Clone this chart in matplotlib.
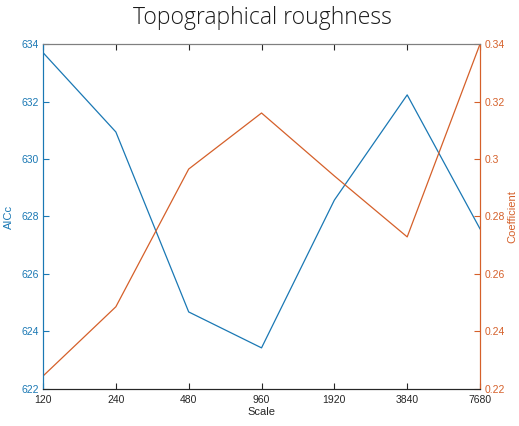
import matplotlib
matplotlib.use("Agg")
import matplotlib.pyplot as plt
from matplotlib.ticker import FixedLocator, FixedFormatter, FormatStrFormatter

# scale levels and fitted values
scales = [120, 240, 480, 960, 1920, 3840, 7680]
aicc = [633.70, 630.94, 624.68, 623.43, 628.57, 632.23, 627.57]
coef = [0.2245, 0.2486, 0.2965, 0.3160, 0.2941, 0.2729, 0.3400]

blue = "#1a78b4"
orange = "#d5602a"
dark = "#262626"

plt.rcParams["font.family"] = ["Liberation Sans", "DejaVu Sans"]

fig = plt.figure(figsize=(5.19, 4.26), dpi=100)
ax = fig.add_axes([0.0829, 0.0869, 0.842, 0.8098])
ax2 = ax.twinx()

ax.plot(scales, aicc, color=blue, lw=0.9)
ax2.plot(scales, coef, color=orange, lw=0.9)

ax.set_xscale("log", base=2)
ax.set_xlim(120, 7680)
ax.xaxis.set_major_locator(FixedLocator(scales))
ax.xaxis.set_major_formatter(FixedFormatter([str(s) for s in scales]))
ax.xaxis.set_minor_locator(FixedLocator([]))

ax.set_ylim(622, 634)
ax.set_yticks(range(622, 635, 2))
ax2.set_ylim(0.22, 0.34)
ax2.set_yticks([0.22, 0.24, 0.26, 0.28, 0.30, 0.32, 0.34])
ax2.yaxis.set_major_formatter(FormatStrFormatter("%g"))

ax.tick_params(axis="x", direction="in", length=4, width=0.8, colors=dark,
               labelsize=7.5, top=True, pad=4)
ax.tick_params(axis="y", direction="in", length=4, width=0.8, colors=blue,
               labelsize=7.5, pad=3)
ax2.tick_params(axis="y", direction="in", length=4, width=0.8, colors=orange,
                labelsize=7.5, pad=3)

for a in (ax, ax2):
    a.spines["left"].set_color(blue)
    a.spines["right"].set_color(orange)
    a.spines["bottom"].set_color(dark)
    a.spines["top"].set_color("#7f7f7f")
    for s in a.spines.values():
        s.set_linewidth(0.8)

ax.set_xlabel("Scale", fontsize=8, color=dark, labelpad=2)
ax.set_ylabel("AICc", fontsize=8, color=blue, labelpad=5)
ax2.set_ylabel("Coefficient", fontsize=8, color=orange, labelpad=2)

fig.suptitle("Topographical roughness", x=0.506, y=0.985, fontsize=16.5,
             family=["Open Sans", "DejaVu Sans"], fontweight="light", color="#1a1a1a")

fig.savefig("out.png", dpi=100)
